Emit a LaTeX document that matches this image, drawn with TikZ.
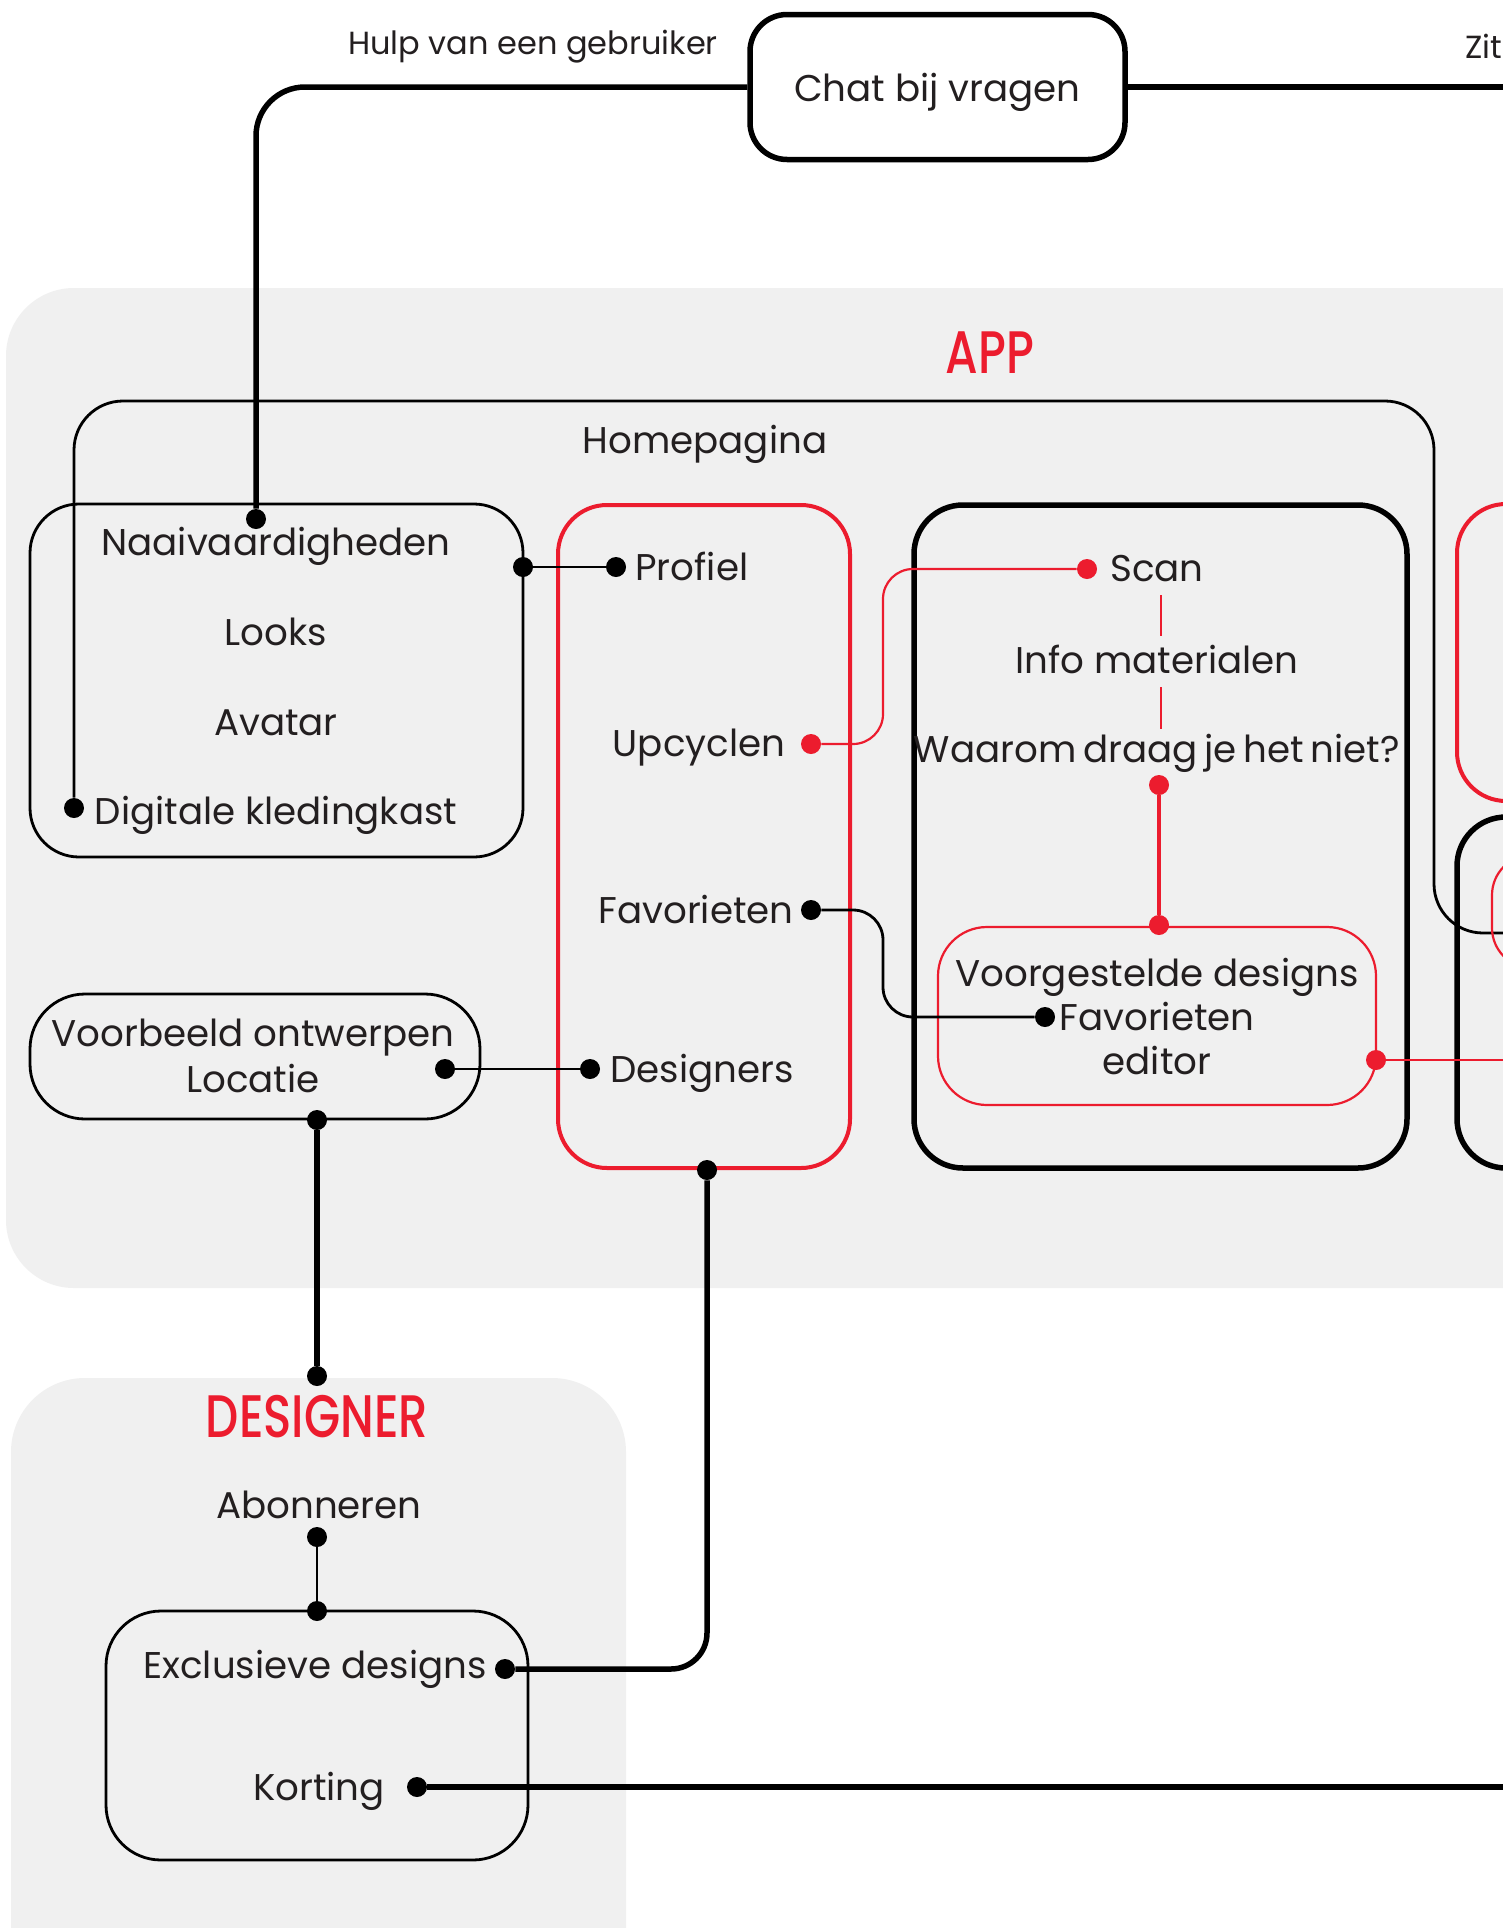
\documentclass[tikz,border=0pt]{standalone}
\usepackage{fontspec}
\setmainfont{Poppins}
\newfontfamily\titlefont{Poppins Medium}
\usetikzlibrary{calc}
\definecolor{brandred}{HTML}{EC1C2E}
\definecolor{panel}{HTML}{F0F0F0}
\definecolor{ink}{HTML}{231F20}
\begin{document}
\begin{tikzpicture}[x=0.5pt,y=-0.5pt,
  lbl/.style={inner sep=0pt, text=ink, text height=13pt, text depth=0pt,
    font=\fontsize{18.6}{22}\selectfont},
  small/.style={lbl, text height=11.2pt, font=\fontsize{16}{19}\selectfont},
  title/.style={inner sep=0pt, text=brandred, xscale=0.78,
    font=\titlefont\fontsize{30}{34}\selectfont},
  heavy/.style={draw=black, line width=2.75pt},
  lite/.style={draw=black, line width=1.4pt},
  redheavy/.style={draw=brandred, line width=2pt},
  redlite/.style={draw=brandred, line width=1.1pt},
  frame/.style={lite, rounded corners=24.5pt, inner sep=0pt},
  bdot/.style={circle, fill=black, inner sep=0pt, minimum size=10pt},
  rdot/.style={circle, fill=brandred, inner sep=0pt, minimum size=10pt},
]
\useasboundingbox (0,0) rectangle (1503,1928);
\clip (0,0) rectangle (1503,1928);
\fill[white] (0,0) rectangle (1503,1928);

% grey panels
\fill[panel, rounded corners=34pt] (6,288) rectangle (1600,1288);
\fill[panel, rounded corners=37pt] (11,1378) rectangle (626,2050);

% panel titles
\node[title] (app) at (990,353) {APP};
\node[title] (designer) at (317,1417) {DESIGNER};

% top chat box
\node[heavy, rounded corners=18.5pt, minimum width=187.5pt, minimum height=72.5pt,
  inner sep=0pt] (chat) at (937.5,87) {};
\node[lbl] (chattxt) at (937.5,88) {Chat bij vragen};
\node[small] (hulp) at (533,43) {Hulp van een gebruiker};
\node[small, anchor=west] (zit) at (1465,47) {Zit};

% homepage frame
\node[lbl] (home) at (705,440) {Homepagina};
\node[bdot] (d-kast) at (74,808) {};
\draw[lite, rounded corners=24.5pt] (d-kast) -- (74,401) -- (1434,401) -- (1434,933) -- (1560,933);

% boxes
\node[frame, minimum width=246.5pt, minimum height=176.5pt] (naai) at (276.5,680.5) {};
\node[frame, redheavy, minimum width=146pt, minimum height=331.5pt] (menu) at (704,836.5) {};
\node[frame, heavy, minimum width=246.5pt, minimum height=331.5pt] (scanbox) at (1160.5,836.5) {};
\node[frame, redlite, minimum width=219pt, minimum height=89pt] (voorg) at (1157,1016) {};
\node[frame, rounded corners=27.5pt, minimum width=225pt, minimum height=62.5pt] (voorb) at (255,1056.5) {};
\node[frame, rounded corners=27.5pt, minimum width=211pt, minimum height=124.5pt] (excl) at (317,1735.5) {};

% boxes running off the right side
\draw[redheavy, rounded corners=24.5pt] (1600,504) -- (1457,504) -- (1457,801) -- (1600,801);
\draw[heavy, rounded corners=24.5pt] (1600,817) -- (1457,817) -- (1457,1168) -- (1600,1168);
\draw[redlite, rounded corners=20pt] (1600,855) -- (1492,855) -- (1492,968) -- (1600,968);

% texts in the profile box
\node[lbl] (t-naai) at (276,542) {Naaivaardigheden};
\node[lbl] (t-looks) at (276,632) {Looks};
\node[lbl] (t-avatar) at (276,722) {Avatar};
\node[lbl] (t-kast) at (276,811) {Digitale kledingkast};

% texts in the menu
\node[lbl, anchor=west] (t-prof) at (635,567) {Profiel};
\node[lbl] (t-upc) at (699,743) {Upcyclen};
\node[lbl] (t-fav) at (696,910) {Favorieten};
\node[lbl, anchor=west] (t-des) at (610,1069) {Designers};

% texts in the scan box
\node[lbl] (t-scan) at (1157,568) {Scan};
\node[lbl] (t-info) at (1157,660) {Info materialen};
\node[lbl] (t-waarom) at (1157,749) {\spaceskip=3.4pt Waarom draag je het niet?};
\node[lbl] (t-voorg) at (1157,973) {Voorgestelde designs};
\node[lbl] (t-fav2) at (1157,1017) {Favorieten};
\node[lbl] (t-editor) at (1157,1061) {editor};

% texts in the lower boxes
\node[lbl] (t-voorb) at (253,1033) {Voorbeeld ontwerpen};
\node[lbl] (t-loc) at (253,1079) {Locatie};
\node[lbl] (t-abon) at (319,1505) {Abonneren};
\node[lbl] (t-excl) at (315,1665) {Exclusieve designs};
\node[lbl] (t-kort) at (319,1787) {Korting};

% connector end points
\node[bdot] (d-naai-top) at (256,519) {};
\node[bdot] (d-naai-r) at (523,567) {};
\node[bdot] (d-prof) at (616,567) {};
\node[rdot] (d-upc) at (811,744) {};
\node[rdot] (d-scan) at (1087,569) {};
\node[bdot] (d-fav) at (811,910) {};
\node[bdot] (d-fav2) at (1045,1017) {};
\node[rdot] (d-waarom) at (1159,785) {};
\node[rdot] (d-voorg) at (1159,925) {};
\node[rdot] (d-voorg-r) at (1376,1060) {};
\node[bdot] (d-des) at (590,1069) {};
\node[bdot] (d-voorb) at (445,1069) {};
\node[bdot] (d-voorb-b) at (317,1120) {};
\node[bdot] (d-menu-b) at (707,1170) {};
\node[bdot] (d-designer) at (317,1376) {};
\node[bdot] (d-abon) at (317,1537) {};
\node[bdot] (d-excl-top) at (317,1611) {};
\node[bdot] (d-excl) at (505,1669) {};
\node[bdot] (d-kort) at (417,1787) {};
\coordinate (r-chat) at (1560,87);
\coordinate (r-voorg) at (1560,1060);
\coordinate (r-kort) at (1560,1787);

% connectors
\draw[heavy, rounded corners=24.5pt] (chat.west) -| (d-naai-top);
\draw[heavy] (chat.east) -- (r-chat);
\draw[lite] (d-naai-r) -- (d-prof);
\draw[redlite, rounded corners=15pt] (d-upc) -- (883,744) |- (d-scan);
\draw[lite, rounded corners=15pt] (d-fav) -- (883,910) |- (d-fav2);
\draw[redlite] ($(t-scan.south)+(4,14)$) -- ++(0,41);
\draw[redlite] ($(t-info.south)+(4,14)$) -- ++(0,42);
\draw[redlite, line width=1.6pt] (d-waarom) -- (d-voorg);
\draw[redlite] (d-voorg-r) -- (r-voorg);
\draw[lite] (d-voorb) -- (d-des);
\draw[heavy] (d-voorb-b) -- (d-designer);
\draw[heavy, rounded corners=18pt] (d-menu-b) |- (d-excl);
\draw[lite] (d-abon) -- (d-excl-top);
\draw[heavy] (d-kort) -- (r-kort);
\end{tikzpicture}
\end{document}
